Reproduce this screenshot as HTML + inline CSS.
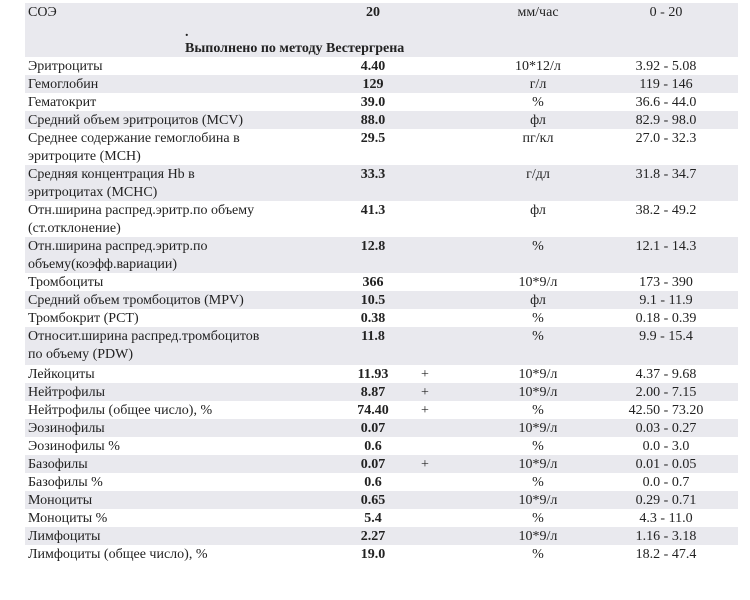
<!DOCTYPE html>
<html><head><meta charset="utf-8"><style>
body{margin:0;width:750px;height:600px;background:#fff;position:relative;overflow:hidden;font-family:"Liberation Serif","DejaVu Serif",serif;font-size:14px;color:#222}
.r{position:absolute;left:25px;width:713px}
.g{background:#e9e9ee}
.t{position:absolute;white-space:nowrap;line-height:18px;margin-top:1px}
.n{left:3px}
.v{left:298px;width:100px;text-align:center;font-weight:bold}
.p{left:390px;width:20px;text-align:center}
.u{left:463px;width:100px;text-align:center}
.f{left:591px;width:100px;text-align:center}
</style></head><body>
<div class="r g" style="top:3px;height:54px">
<div class="t n" style="top:0">СОЭ</div><div class="t v" style="top:0">20</div><div class="t u" style="top:0">мм/час</div><div class="t f" style="top:0">0 - 20</div>
<div class="t" style="left:160px;top:20px;font-weight:bold">.</div>
<div class="t" style="left:160px;top:36px;font-weight:bold">Выполнено по методу Вестергрена</div>
</div>
<div class="r" style="top:57px;height:18px"><div class="t n">Эритроциты</div><div class="t v">4.40</div><div class="t u">10*12/л</div><div class="t f">3.92 - 5.08</div></div>
<div class="r g" style="top:75px;height:18px"><div class="t n">Гемоглобин</div><div class="t v">129</div><div class="t u">г/л</div><div class="t f">119 - 146</div></div>
<div class="r" style="top:93px;height:18px"><div class="t n">Гематокрит</div><div class="t v">39.0</div><div class="t u">%</div><div class="t f">36.6 - 44.0</div></div>
<div class="r g" style="top:111px;height:18px"><div class="t n">Средний объем эритроцитов (MCV)</div><div class="t v">88.0</div><div class="t u">фл</div><div class="t f">82.9 - 98.0</div></div>
<div class="r" style="top:129px;height:36px"><div class="t n">Среднее содержание гемоглобина в<br>эритроците (MCH)</div><div class="t v">29.5</div><div class="t u">пг/кл</div><div class="t f">27.0 - 32.3</div></div>
<div class="r g" style="top:165px;height:36px"><div class="t n">Средняя концентрация Hb в<br>эритроцитах (MCHC)</div><div class="t v">33.3</div><div class="t u">г/дл</div><div class="t f">31.8 - 34.7</div></div>
<div class="r" style="top:201px;height:36px"><div class="t n">Отн.ширина распред.эритр.по объему<br>(ст.отклонение)</div><div class="t v">41.3</div><div class="t u">фл</div><div class="t f">38.2 - 49.2</div></div>
<div class="r g" style="top:237px;height:36px"><div class="t n">Отн.ширина распред.эритр.по<br>объему(коэфф.вариации)</div><div class="t v">12.8</div><div class="t u">%</div><div class="t f">12.1 - 14.3</div></div>
<div class="r" style="top:273px;height:18px"><div class="t n">Тромбоциты</div><div class="t v">366</div><div class="t u">10*9/л</div><div class="t f">173 - 390</div></div>
<div class="r g" style="top:291px;height:18px"><div class="t n">Средний объем тромбоцитов (MPV)</div><div class="t v">10.5</div><div class="t u">фл</div><div class="t f">9.1 - 11.9</div></div>
<div class="r" style="top:309px;height:18px"><div class="t n">Тромбокрит (PCT)</div><div class="t v">0.38</div><div class="t u">%</div><div class="t f">0.18 - 0.39</div></div>
<div class="r g" style="top:327px;height:38px"><div class="t n">Относит.ширина распред.тромбоцитов<br>по объему (PDW)</div><div class="t v">11.8</div><div class="t u">%</div><div class="t f">9.9 - 15.4</div></div>
<div class="r" style="top:365px;height:18px"><div class="t n">Лейкоциты</div><div class="t v">11.93</div><div class="t p">+</div><div class="t u">10*9/л</div><div class="t f">4.37 - 9.68</div></div>
<div class="r g" style="top:383px;height:18px"><div class="t n">Нейтрофилы</div><div class="t v">8.87</div><div class="t p">+</div><div class="t u">10*9/л</div><div class="t f">2.00 - 7.15</div></div>
<div class="r" style="top:401px;height:18px"><div class="t n">Нейтрофилы (общее число), %</div><div class="t v">74.40</div><div class="t p">+</div><div class="t u">%</div><div class="t f">42.50 - 73.20</div></div>
<div class="r g" style="top:419px;height:18px"><div class="t n">Эозинофилы</div><div class="t v">0.07</div><div class="t u">10*9/л</div><div class="t f">0.03 - 0.27</div></div>
<div class="r" style="top:437px;height:18px"><div class="t n">Эозинофилы %</div><div class="t v">0.6</div><div class="t u">%</div><div class="t f">0.0 - 3.0</div></div>
<div class="r g" style="top:455px;height:18px"><div class="t n">Базофилы</div><div class="t v">0.07</div><div class="t p">+</div><div class="t u">10*9/л</div><div class="t f">0.01 - 0.05</div></div>
<div class="r" style="top:473px;height:18px"><div class="t n">Базофилы %</div><div class="t v">0.6</div><div class="t u">%</div><div class="t f">0.0 - 0.7</div></div>
<div class="r g" style="top:491px;height:18px"><div class="t n">Моноциты</div><div class="t v">0.65</div><div class="t u">10*9/л</div><div class="t f">0.29 - 0.71</div></div>
<div class="r" style="top:509px;height:18px"><div class="t n">Моноциты %</div><div class="t v">5.4</div><div class="t u">%</div><div class="t f">4.3 - 11.0</div></div>
<div class="r g" style="top:527px;height:18px"><div class="t n">Лимфоциты</div><div class="t v">2.27</div><div class="t u">10*9/л</div><div class="t f">1.16 - 3.18</div></div>
<div class="r" style="top:545px;height:18px"><div class="t n">Лимфоциты (общее число), %</div><div class="t v">19.0</div><div class="t u">%</div><div class="t f">18.2 - 47.4</div></div>
</body></html>
